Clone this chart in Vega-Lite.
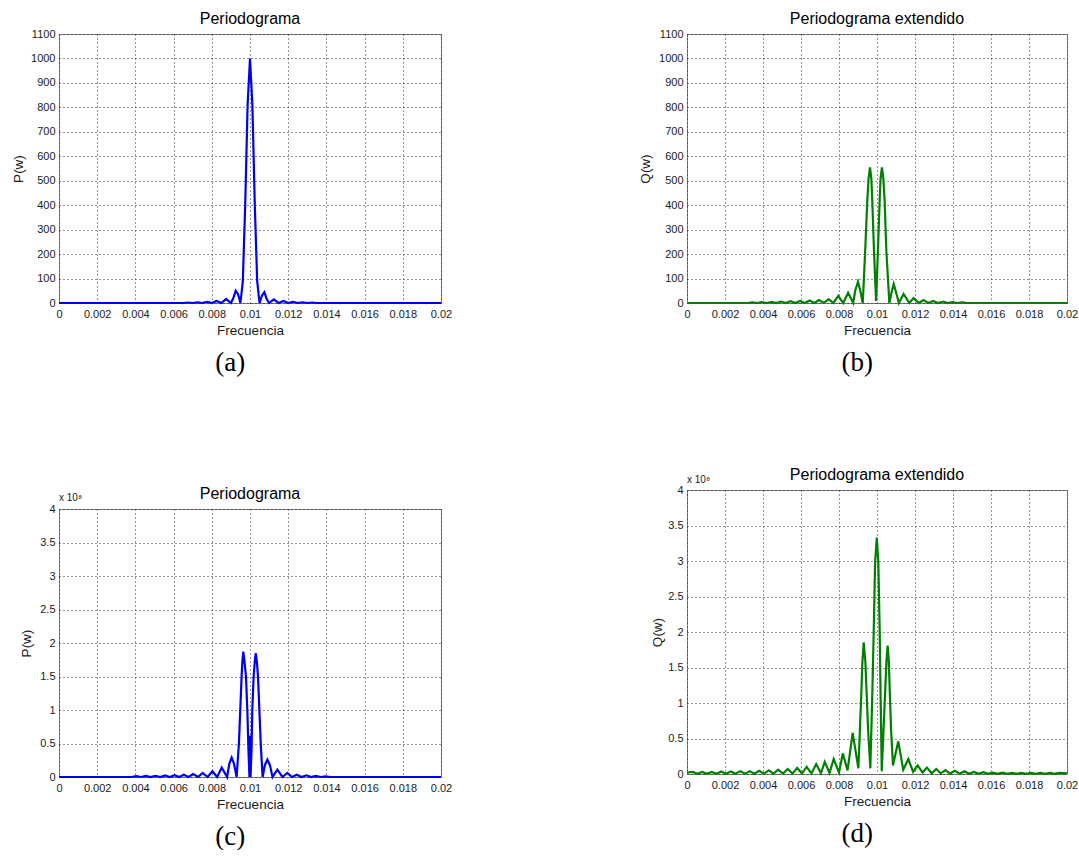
{
  "$schema": "https://vega.github.io/schema/vega-lite/v6.json",
  "background": "white",
  "padding": {"left": 9, "top": 11, "right": 0, "bottom": 0},
  "config": {
    "view": {"stroke": "#808080", "strokeWidth": 1},
    "axis": {"domain": false, "ticks": false, "tickSize": 0, "grid": true, "gridColor": "#2a2a2a", "gridDash": [1, 3], "gridWidth": 1, "labelFont": "Liberation Sans", "labelFontSize": 11, "labelColor": "#1a1a1a", "labelOverlap": false, "titleFont": "Liberation Sans", "titleFontSize": 13.5, "titleFontWeight": "normal", "titleColor": "#1a1a1a"},
    "axisX": {"labelPadding": 5, "titlePadding": 4, "labelFlush": false},
    "axisY": {"labelPadding": 4, "minExtent": 50},
    "header": {"labelFont": "Liberation Sans", "labelFontSize": 16, "labelColor": "#000000", "labelOrient": "top", "labelPadding": 7},
    "title": {"font": "Liberation Serif", "fontSize": 27, "fontWeight": "normal", "color": "#000000", "orient": "bottom", "frame": "bounds", "anchor": "middle", "offset": 13}
  },
  "spacing": 185,
  "resolve": {"scale": {"x": "independent", "y": "independent"}},
  "hconcat": [
    {
      "spacing": 110,
      "resolve": {"scale": {"x": "independent", "y": "independent"}},
      "vconcat": [
        {
          "title": {"text": "(a)"},
          "bounds": "flush",
          "data": {"values": [
            {"k": "a", "f": 0, "p": 0}, {"k": "a", "f": 0.0065, "p": 0}, {"k": "a", "f": 0.00675, "p": 2}, {"k": "a", "f": 0.007, "p": 0},
            {"k": "a", "f": 0.00725, "p": 3}, {"k": "a", "f": 0.0075, "p": 0}, {"k": "a", "f": 0.00775, "p": 5}, {"k": "a", "f": 0.008, "p": 0},
            {"k": "a", "f": 0.00825, "p": 8}, {"k": "a", "f": 0.0085, "p": 0}, {"k": "a", "f": 0.00875, "p": 17}, {"k": "a", "f": 0.009, "p": 0},
            {"k": "a", "f": 0.009125, "p": 19}, {"k": "a", "f": 0.00925, "p": 50}, {"k": "a", "f": 0.009375, "p": 36}, {"k": "a", "f": 0.0095, "p": 0},
            {"k": "a", "f": 0.009625, "p": 90}, {"k": "a", "f": 0.00975, "p": 405}, {"k": "a", "f": 0.009875, "p": 811}, {"k": "a", "f": 0.01, "p": 1000},
            {"k": "a", "f": 0.010125, "p": 811}, {"k": "a", "f": 0.01025, "p": 405}, {"k": "a", "f": 0.010375, "p": 90}, {"k": "a", "f": 0.0105, "p": 0},
            {"k": "a", "f": 0.010625, "p": 30}, {"k": "a", "f": 0.01075, "p": 44}, {"k": "a", "f": 0.010875, "p": 16}, {"k": "a", "f": 0.011, "p": 0},
            {"k": "a", "f": 0.01125, "p": 15}, {"k": "a", "f": 0.0115, "p": 0}, {"k": "a", "f": 0.01175, "p": 8}, {"k": "a", "f": 0.012, "p": 0},
            {"k": "a", "f": 0.01225, "p": 5}, {"k": "a", "f": 0.0125, "p": 0}, {"k": "a", "f": 0.01275, "p": 3}, {"k": "a", "f": 0.013, "p": 0},
            {"k": "a", "f": 0.01325, "p": 2}, {"k": "a", "f": 0.0135, "p": 0}, {"k": "a", "f": 0.02, "p": 0}
          ]},
          "facet": {"column": {"field": "k", "type": "nominal", "title": null, "header": {"labelExpr": "'Periodograma'"}}},
          "spec": {
            "width": 382, "height": 269,
            "mark": {"type": "line", "color": "#0000f0", "strokeWidth": 2.2},
            "encoding": {
              "x": {"field": "f", "type": "quantitative", "scale": {"domain": [0, 0.02], "nice": false, "zero": false},
                    "axis": {"title": "Frecuencia", "values": [0, 0.002, 0.004, 0.006, 0.008, 0.01, 0.012, 0.014, 0.016, 0.018, 0.02], "format": "~g"}},
              "y": {"field": "p", "type": "quantitative", "scale": {"domain": [0, 1100], "nice": false},
                    "axis": {"title": "P(w)", "titleX": -34, "format": "d", "values": [0, 100, 200, 300, 400, 500, 600, 700, 800, 900, 1000, 1100]}}
            }
          }
        },
        {
          "title": {"text": "(c)"},
          "bounds": "flush",
          "data": {"values": [
            {"k": "c", "f": 0, "p": 0}, {"k": "c", "f": 0.0038, "p": 0}, {"k": "c", "f": 0.00405, "p": 1200000}, {"k": "c", "f": 0.0043, "p": 0},
            {"k": "c", "f": 0.00455, "p": 1500000}, {"k": "c", "f": 0.0048, "p": 0}, {"k": "c", "f": 0.00505, "p": 1800000}, {"k": "c", "f": 0.0053, "p": 0},
            {"k": "c", "f": 0.00555, "p": 2200000}, {"k": "c", "f": 0.0058, "p": 0}, {"k": "c", "f": 0.00605, "p": 2800000}, {"k": "c", "f": 0.0063, "p": 0},
            {"k": "c", "f": 0.00654, "p": 3500000}, {"k": "c", "f": 0.00678, "p": 0}, {"k": "c", "f": 0.00703, "p": 4500000}, {"k": "c", "f": 0.00728, "p": 0},
            {"k": "c", "f": 0.00752, "p": 6000000}, {"k": "c", "f": 0.00778, "p": 0}, {"k": "c", "f": 0.00803, "p": 8500000}, {"k": "c", "f": 0.00828, "p": 0},
            {"k": "c", "f": 0.00852, "p": 14000000}, {"k": "c", "f": 0.0088, "p": 0}, {"k": "c", "f": 0.00892, "p": 20000000}, {"k": "c", "f": 0.00904, "p": 29000000},
            {"k": "c", "f": 0.00916, "p": 20000000}, {"k": "c", "f": 0.0093, "p": 0}, {"k": "c", "f": 0.00942, "p": 50000000}, {"k": "c", "f": 0.00949, "p": 100000000},
            {"k": "c", "f": 0.00956, "p": 150000000}, {"k": "c", "f": 0.0096, "p": 172000000}, {"k": "c", "f": 0.00965, "p": 187000000}, {"k": "c", "f": 0.0097, "p": 175000000},
            {"k": "c", "f": 0.00979, "p": 150000000}, {"k": "c", "f": 0.00986, "p": 100000000}, {"k": "c", "f": 0.00992, "p": 40000000}, {"k": "c", "f": 0.00997, "p": 0},
            {"k": "c", "f": 0.01, "p": 62000000}, {"k": "c", "f": 0.01003, "p": 0}, {"k": "c", "f": 0.01008, "p": 40000000}, {"k": "c", "f": 0.01012, "p": 100000000},
            {"k": "c", "f": 0.01019, "p": 150000000}, {"k": "c", "f": 0.01025, "p": 172000000}, {"k": "c", "f": 0.0103, "p": 185000000}, {"k": "c", "f": 0.01036, "p": 172000000},
            {"k": "c", "f": 0.01042, "p": 150000000}, {"k": "c", "f": 0.01049, "p": 100000000}, {"k": "c", "f": 0.01057, "p": 45000000}, {"k": "c", "f": 0.01066, "p": 0},
            {"k": "c", "f": 0.01078, "p": 18000000}, {"k": "c", "f": 0.01091, "p": 26000000}, {"k": "c", "f": 0.01104, "p": 18000000}, {"k": "c", "f": 0.01118, "p": 0},
            {"k": "c", "f": 0.01143, "p": 11000000}, {"k": "c", "f": 0.0117, "p": 0}, {"k": "c", "f": 0.01195, "p": 6000000}, {"k": "c", "f": 0.0122, "p": 0},
            {"k": "c", "f": 0.01245, "p": 3500000}, {"k": "c", "f": 0.0127, "p": 0}, {"k": "c", "f": 0.01295, "p": 2500000}, {"k": "c", "f": 0.0132, "p": 0},
            {"k": "c", "f": 0.01345, "p": 1500000}, {"k": "c", "f": 0.0137, "p": 0}, {"k": "c", "f": 0.01395, "p": 1000000}, {"k": "c", "f": 0.0142, "p": 0},
            {"k": "c", "f": 0.02, "p": 0}
          ]},
          "facet": {"column": {"field": "k", "type": "nominal", "title": null, "header": {"labelExpr": "'Periodograma'"}}},
          "spec": {
            "width": 382, "height": 268,
            "layer": [
              {
                "mark": {"type": "line", "color": "#0000f0", "strokeWidth": 2.2},
                "encoding": {
                  "x": {"field": "f", "type": "quantitative", "scale": {"domain": [0, 0.02], "nice": false, "zero": false},
                        "axis": {"title": "Frecuencia", "values": [0, 0.002, 0.004, 0.006, 0.008, 0.01, 0.012, 0.014, 0.016, 0.018, 0.02], "format": "~g"}},
                  "y": {"field": "p", "type": "quantitative", "scale": {"domain": [0, 400000000], "nice": false},
                        "axis": {"title": "P(w)", "titleX": -26, "values": [0, 50000000, 100000000, 150000000, 200000000, 250000000, 300000000, 350000000, 400000000], "labelExpr": "format(datum.value / 100000000, '~g')"}}
                }
              },
              {
                "transform": [{"aggregate": [{"op": "count", "as": "n"}], "groupby": ["k"]}],
                "mark": {"type": "text", "text": "x 10⁸", "align": "left", "baseline": "bottom", "dy": -6, "fontSize": 10, "font": "Liberation Sans", "color": "#1a1a1a"},
                "encoding": {
                  "x": {"datum": 0, "type": "quantitative", "scale": {"domain": [0, 0.02], "nice": false, "zero": false},
                        "axis": {"title": "Frecuencia", "values": [0, 0.002, 0.004, 0.006, 0.008, 0.01, 0.012, 0.014, 0.016, 0.018, 0.02], "format": "~g"}},
                  "y": {"datum": 400000000, "type": "quantitative", "scale": {"domain": [0, 400000000], "nice": false},
                        "axis": {"title": "P(w)", "titleX": -26, "values": [0, 50000000, 100000000, 150000000, 200000000, 250000000, 300000000, 350000000, 400000000], "labelExpr": "format(datum.value / 100000000, '~g')"}}
                }
              }
            ]
          }
        }
      ]
    },
    {
      "spacing": 91,
      "resolve": {"scale": {"x": "independent", "y": "independent"}},
      "vconcat": [
        {
          "title": {"text": "(b)"},
          "bounds": "flush",
          "data": {"values": [
            {"k": "b", "f": 0, "q": 0}, {"k": "b", "f": 0.0032, "q": 0}, {"k": "b", "f": 0.00345, "q": 3}, {"k": "b", "f": 0.0037, "q": 0},
            {"k": "b", "f": 0.00395, "q": 4}, {"k": "b", "f": 0.0042, "q": 0}, {"k": "b", "f": 0.00445, "q": 5}, {"k": "b", "f": 0.0047, "q": 0},
            {"k": "b", "f": 0.00495, "q": 6}, {"k": "b", "f": 0.0052, "q": 0}, {"k": "b", "f": 0.00545, "q": 7}, {"k": "b", "f": 0.0057, "q": 0},
            {"k": "b", "f": 0.00595, "q": 8}, {"k": "b", "f": 0.0062, "q": 0}, {"k": "b", "f": 0.00645, "q": 10}, {"k": "b", "f": 0.0067, "q": 0},
            {"k": "b", "f": 0.00695, "q": 12}, {"k": "b", "f": 0.0072, "q": 0}, {"k": "b", "f": 0.00745, "q": 16}, {"k": "b", "f": 0.0077, "q": 0},
            {"k": "b", "f": 0.00796, "q": 29}, {"k": "b", "f": 0.00822, "q": 0}, {"k": "b", "f": 0.00848, "q": 42}, {"k": "b", "f": 0.00875, "q": 0},
            {"k": "b", "f": 0.00885, "q": 50}, {"k": "b", "f": 0.009, "q": 87}, {"k": "b", "f": 0.00912, "q": 50}, {"k": "b", "f": 0.00925, "q": 0},
            {"k": "b", "f": 0.00938, "q": 217}, {"k": "b", "f": 0.00949, "q": 421}, {"k": "b", "f": 0.00956, "q": 512}, {"k": "b", "f": 0.00963, "q": 555},
            {"k": "b", "f": 0.0097, "q": 512}, {"k": "b", "f": 0.00975, "q": 421}, {"k": "b", "f": 0.00984, "q": 217}, {"k": "b", "f": 0.00995, "q": 8},
            {"k": "b", "f": 0.01005, "q": 217}, {"k": "b", "f": 0.01014, "q": 421}, {"k": "b", "f": 0.01019, "q": 512}, {"k": "b", "f": 0.01026, "q": 555},
            {"k": "b", "f": 0.01033, "q": 512}, {"k": "b", "f": 0.0104, "q": 421}, {"k": "b", "f": 0.01049, "q": 217}, {"k": "b", "f": 0.01065, "q": 0},
            {"k": "b", "f": 0.01077, "q": 45}, {"k": "b", "f": 0.01088, "q": 78}, {"k": "b", "f": 0.011, "q": 45}, {"k": "b", "f": 0.01115, "q": 0},
            {"k": "b", "f": 0.0114, "q": 37}, {"k": "b", "f": 0.0117, "q": 0}, {"k": "b", "f": 0.01193, "q": 20}, {"k": "b", "f": 0.0122, "q": 0},
            {"k": "b", "f": 0.01245, "q": 12}, {"k": "b", "f": 0.0127, "q": 0}, {"k": "b", "f": 0.01296, "q": 8}, {"k": "b", "f": 0.0132, "q": 0},
            {"k": "b", "f": 0.0135, "q": 6}, {"k": "b", "f": 0.0137, "q": 0}, {"k": "b", "f": 0.014, "q": 4}, {"k": "b", "f": 0.0142, "q": 0},
            {"k": "b", "f": 0.0145, "q": 3}, {"k": "b", "f": 0.0147, "q": 0}, {"k": "b", "f": 0.02, "q": 0}
          ]},
          "facet": {"column": {"field": "k", "type": "nominal", "title": null, "header": {"labelExpr": "'Periodograma extendido'"}}},
          "spec": {
            "width": 380, "height": 269,
            "mark": {"type": "line", "color": "#008000", "strokeWidth": 2.2},
            "encoding": {
              "x": {"field": "f", "type": "quantitative", "scale": {"domain": [0, 0.02], "nice": false, "zero": false},
                    "axis": {"title": "Frecuencia", "values": [0, 0.002, 0.004, 0.006, 0.008, 0.01, 0.012, 0.014, 0.016, 0.018, 0.02], "format": "~g"}},
              "y": {"field": "q", "type": "quantitative", "scale": {"domain": [0, 1100], "nice": false},
                    "axis": {"title": "Q(w)", "titleX": -35, "format": "d", "values": [0, 100, 200, 300, 400, 500, 600, 700, 800, 900, 1000, 1100]}}
            }
          }
        },
        {
          "title": {"text": "(d)"},
          "bounds": "flush",
          "data": {"values": [
            {"k": "d", "f": 0, "q": 2000000}, {"k": "d", "f": 0.0003, "q": 3000000}, {"k": "d", "f": 0.00055, "q": 300000}, {"k": "d", "f": 0.0008, "q": 3000000},
            {"k": "d", "f": 0.00105, "q": 300000}, {"k": "d", "f": 0.0013, "q": 3000000}, {"k": "d", "f": 0.00155, "q": 300000}, {"k": "d", "f": 0.0018, "q": 3500000},
            {"k": "d", "f": 0.00205, "q": 300000}, {"k": "d", "f": 0.0023, "q": 3500000}, {"k": "d", "f": 0.00255, "q": 300000}, {"k": "d", "f": 0.0028, "q": 4000000},
            {"k": "d", "f": 0.00305, "q": 300000}, {"k": "d", "f": 0.0033, "q": 4000000}, {"k": "d", "f": 0.00355, "q": 300000}, {"k": "d", "f": 0.0038, "q": 4500000},
            {"k": "d", "f": 0.00405, "q": 300000}, {"k": "d", "f": 0.0043, "q": 5000000}, {"k": "d", "f": 0.00455, "q": 400000}, {"k": "d", "f": 0.0048, "q": 6000000},
            {"k": "d", "f": 0.00505, "q": 500000}, {"k": "d", "f": 0.0053, "q": 7000000}, {"k": "d", "f": 0.00555, "q": 500000}, {"k": "d", "f": 0.0058, "q": 8500000},
            {"k": "d", "f": 0.00605, "q": 600000}, {"k": "d", "f": 0.0063, "q": 10000000}, {"k": "d", "f": 0.00655, "q": 800000}, {"k": "d", "f": 0.0068, "q": 14000000},
            {"k": "d", "f": 0.00705, "q": 1000000}, {"k": "d", "f": 0.00725, "q": 17000000}, {"k": "d", "f": 0.0075, "q": 1500000}, {"k": "d", "f": 0.00772, "q": 21000000},
            {"k": "d", "f": 0.008, "q": 2000000}, {"k": "d", "f": 0.0082, "q": 29000000}, {"k": "d", "f": 0.00845, "q": 5000000}, {"k": "d", "f": 0.00872, "q": 58000000},
            {"k": "d", "f": 0.00902, "q": 8000000}, {"k": "d", "f": 0.00917, "q": 110000000}, {"k": "d", "f": 0.00923, "q": 157000000}, {"k": "d", "f": 0.0093, "q": 185500000},
            {"k": "d", "f": 0.00939, "q": 157000000}, {"k": "d", "f": 0.00946, "q": 110000000}, {"k": "d", "f": 0.00953, "q": 63000000}, {"k": "d", "f": 0.00965, "q": 8000000},
            {"k": "d", "f": 0.00975, "q": 110000000}, {"k": "d", "f": 0.00983, "q": 204000000}, {"k": "d", "f": 0.0099, "q": 298000000}, {"k": "d", "f": 0.00999, "q": 333000000},
            {"k": "d", "f": 0.01007, "q": 298000000}, {"k": "d", "f": 0.01014, "q": 204000000}, {"k": "d", "f": 0.01019, "q": 110000000}, {"k": "d", "f": 0.01025, "q": 4000000},
            {"k": "d", "f": 0.01042, "q": 110000000}, {"k": "d", "f": 0.0105, "q": 160000000}, {"k": "d", "f": 0.01056, "q": 181000000}, {"k": "d", "f": 0.01062, "q": 160000000},
            {"k": "d", "f": 0.01068, "q": 110000000}, {"k": "d", "f": 0.01074, "q": 63000000}, {"k": "d", "f": 0.01084, "q": 12000000}, {"k": "d", "f": 0.01112, "q": 46000000},
            {"k": "d", "f": 0.01138, "q": 6000000}, {"k": "d", "f": 0.01165, "q": 21000000}, {"k": "d", "f": 0.0119, "q": 3000000}, {"k": "d", "f": 0.01214, "q": 12000000},
            {"k": "d", "f": 0.0124, "q": 2000000}, {"k": "d", "f": 0.01263, "q": 9000000}, {"k": "d", "f": 0.01288, "q": 1000000}, {"k": "d", "f": 0.01312, "q": 7000000},
            {"k": "d", "f": 0.01336, "q": 800000}, {"k": "d", "f": 0.0136, "q": 5500000}, {"k": "d", "f": 0.01385, "q": 600000}, {"k": "d", "f": 0.0141, "q": 4500000},
            {"k": "d", "f": 0.01435, "q": 500000}, {"k": "d", "f": 0.0146, "q": 4000000}, {"k": "d", "f": 0.01485, "q": 400000}, {"k": "d", "f": 0.0151, "q": 3000000},
            {"k": "d", "f": 0.01535, "q": 300000}, {"k": "d", "f": 0.0156, "q": 2500000}, {"k": "d", "f": 0.01585, "q": 300000}, {"k": "d", "f": 0.0161, "q": 2000000},
            {"k": "d", "f": 0.01635, "q": 200000}, {"k": "d", "f": 0.0166, "q": 2000000}, {"k": "d", "f": 0.01685, "q": 200000}, {"k": "d", "f": 0.0171, "q": 1500000},
            {"k": "d", "f": 0.01735, "q": 200000}, {"k": "d", "f": 0.0176, "q": 1500000}, {"k": "d", "f": 0.01785, "q": 200000}, {"k": "d", "f": 0.0181, "q": 1500000},
            {"k": "d", "f": 0.01835, "q": 200000}, {"k": "d", "f": 0.0186, "q": 1500000}, {"k": "d", "f": 0.01885, "q": 200000}, {"k": "d", "f": 0.0191, "q": 1500000},
            {"k": "d", "f": 0.01935, "q": 200000}, {"k": "d", "f": 0.0196, "q": 1500000}, {"k": "d", "f": 0.02, "q": 1000000}
          ]},
          "facet": {"column": {"field": "k", "type": "nominal", "title": null, "header": {"labelExpr": "'Periodograma extendido'"}}},
          "spec": {
            "width": 380, "height": 284,
            "layer": [
              {
                "mark": {"type": "line", "color": "#008000", "strokeWidth": 2.2},
                "encoding": {
                  "x": {"field": "f", "type": "quantitative", "scale": {"domain": [0, 0.02], "nice": false, "zero": false},
                        "axis": {"title": "Frecuencia", "values": [0, 0.002, 0.004, 0.006, 0.008, 0.01, 0.012, 0.014, 0.016, 0.018, 0.02], "format": "~g"}},
                  "y": {"field": "q", "type": "quantitative", "scale": {"domain": [0, 400000000], "nice": false},
                        "axis": {"title": "Q(w)", "titleX": -23, "values": [0, 50000000, 100000000, 150000000, 200000000, 250000000, 300000000, 350000000, 400000000], "labelExpr": "format(datum.value / 100000000, '~g')"}}
                }
              },
              {
                "transform": [{"aggregate": [{"op": "count", "as": "n"}], "groupby": ["k"]}],
                "mark": {"type": "text", "text": "x 10⁸", "align": "left", "baseline": "bottom", "dy": -5, "fontSize": 10, "font": "Liberation Sans", "color": "#1a1a1a"},
                "encoding": {
                  "x": {"datum": 0, "type": "quantitative", "scale": {"domain": [0, 0.02], "nice": false, "zero": false},
                        "axis": {"title": "Frecuencia", "values": [0, 0.002, 0.004, 0.006, 0.008, 0.01, 0.012, 0.014, 0.016, 0.018, 0.02], "format": "~g"}},
                  "y": {"datum": 400000000, "type": "quantitative", "scale": {"domain": [0, 400000000], "nice": false},
                        "axis": {"title": "Q(w)", "titleX": -23, "values": [0, 50000000, 100000000, 150000000, 200000000, 250000000, 300000000, 350000000, 400000000], "labelExpr": "format(datum.value / 100000000, '~g')"}}
                }
              }
            ]
          }
        }
      ]
    }
  ]
}
